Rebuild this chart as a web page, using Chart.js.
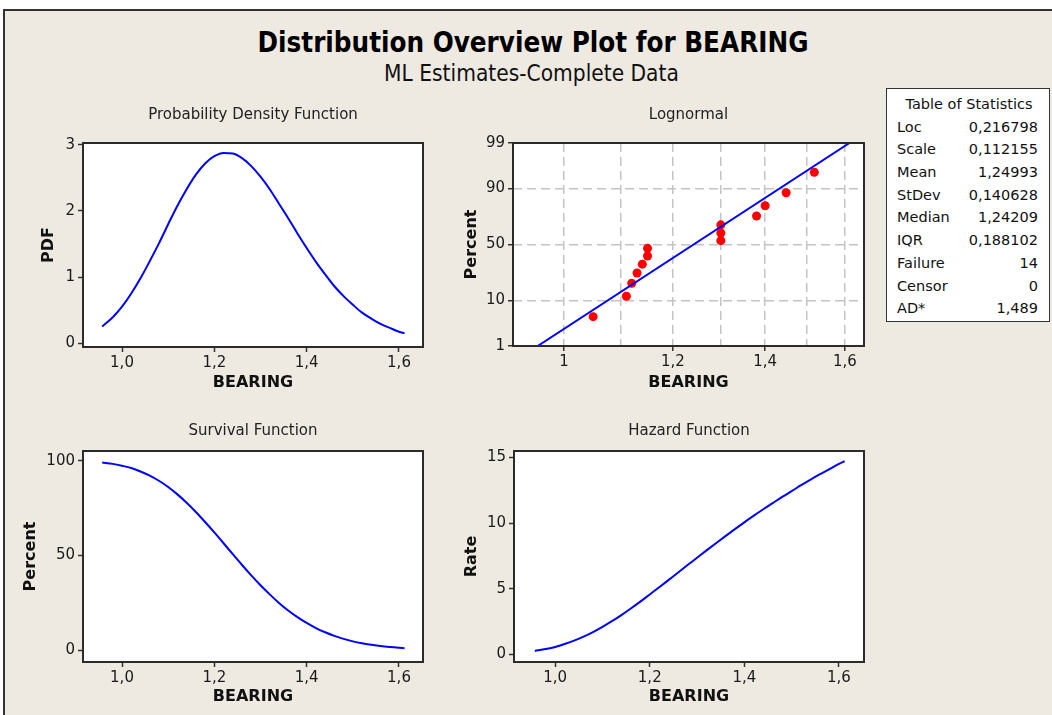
<!DOCTYPE html>
<html>
<head>
<meta charset="utf-8">
<title>Distribution Overview Plot for BEARING</title>
<script src="https://cdn.jsdelivr.net/npm/chart.js@4.4.1/dist/chart.umd.min.js"></script>
<style>
    html, body { margin: 0; padding: 0; background: #fff; }
    body { width: 1052px; height: 715px; position: relative; overflow: hidden;
           font-family: "DejaVu Sans", sans-serif; color: #111; }
    #frame { position: absolute; left: 3px; top: 9px; right: 0; bottom: 0; background: #eeeae1;
             border-top: 2px solid #333; border-left: 2px solid #333; }
    canvas { position: absolute; }
    #mainTitle { position: absolute; left: 0; width: 1066px; top: 26px; line-height: 32px;
                 text-align: center; font-size: 27.5px; font-weight: bold; color: #000;
                 font-family: "DejaVu Sans Condensed", "DejaVu Sans", sans-serif; }
    #subTitle { position: absolute; left: 0; width: 1063px; top: 60px; line-height: 26px;
                text-align: center; font-size: 22.5px; color: #111;
                font-family: "DejaVu Sans Condensed", "DejaVu Sans", sans-serif; }
    #stats { position: absolute; left: 886px; top: 88px; width: 164px; height: 234px; box-sizing: border-box;
             border: 1.5px solid #333; background: #fff; padding: 4px 11px 0 10px; font-size: 14.5px; color: #111; }
    #stats .row { display: flex; justify-content: space-between; line-height: 22.7px; height: 22.7px; }
    #stats .head { text-align: center; line-height: 22.7px; height: 22.7px; margin-right: -3px; white-space: nowrap; }
</style>
</head>
<body>
<div id="frame"></div>
<div id="mainTitle">Distribution Overview Plot for BEARING</div>
<div id="subTitle">ML Estimates-Complete Data</div>
<div id="stats"></div>

<canvas id="pdfChart" width="440" height="305" style="left:0;top:95px"></canvas>
<canvas id="lognormalChart" width="440" height="305" style="left:440px;top:95px"></canvas>
<canvas id="survivalChart" width="440" height="310" style="left:0;top:405px"></canvas>
<canvas id="hazardChart" width="440" height="310" style="left:440px;top:405px"></canvas>

<script>
// curves
const curveX = [0.957, 0.98, 1.00, 1.02, 1.04, 1.06, 1.08, 1.10, 1.12, 1.14, 1.16, 1.18, 1.20, 1.22, 1.24, 1.26, 1.28,
    1.30, 1.32, 1.34, 1.36, 1.38, 1.40, 1.42, 1.44, 1.46, 1.48, 1.50, 1.52, 1.54, 1.56, 1.58, 1.60, 1.612];
const pdfValues = [0.25, 0.39, 0.55, 0.75, 0.98, 1.24, 1.51, 1.80, 2.08, 2.33, 2.55, 2.72, 2.83, 2.88, 2.87, 2.80, 2.68,
    2.52, 2.33, 2.11, 1.89, 1.66, 1.44, 1.23, 1.04, 0.86, 0.71, 0.58, 0.46, 0.37, 0.29, 0.23, 0.17, 0.15];
const survivalValues = [99.0, 98.3, 97.3, 96.1, 94.3, 92.1, 89.4, 86.1, 82.2, 77.8, 72.9, 67.6, 62.1, 56.4, 50.6, 44.9, 39.4,
    34.2, 29.4, 24.9, 20.9, 17.4, 14.3, 11.6, 9.4, 7.5, 5.9, 4.6, 3.6, 2.8, 2.1, 1.6, 1.2, 1.0];
const hazardValues = [0.25, 0.40, 0.56, 0.78, 1.04, 1.34, 1.69, 2.09, 2.52, 2.99, 3.49, 4.01, 4.56, 5.11, 5.67, 6.23, 6.80,
    7.36, 7.92, 8.47, 9.01, 9.54, 10.06, 10.57, 11.06, 11.53, 12.00, 12.44, 12.89, 13.32, 13.73, 14.12, 14.52, 14.72];

// probability plot points and fitted line
const bearingTimes = [1.05, 1.11, 1.12, 1.13, 1.14, 1.15, 1.15, 1.30, 1.30, 1.30, 1.38, 1.40, 1.45, 1.52];
const plotPercents = [4.9, 11.8, 18.7, 25.7, 32.6, 39.6, 46.5, 53.5, 60.4, 67.4, 74.3, 81.3, 88.2, 95.1];
const fitLineX = [0.957, 1.612];
const fitLinePct = [1, 99];

// ticks
const curveTicks = [1.0, 1.2, 1.4, 1.6];
const logTicks = [1, 1.1, 1.2, 1.3, 1.4, 1.5, 1.6];
const logTickLabels = ['1', '', '1,2', '', '1,4', '', '1,6'];
const pctTicks = [1, 10, 50, 90, 99];
const pdfTicks = [0, 1, 2, 3];
const survivalTicks = [0, 50, 100];
const hazardTicks = [0, 5, 10, 15];

const statLabels = ['Loc', 'Scale', 'Mean', 'StDev', 'Median', 'IQR', 'Failure', 'Censor', 'AD*'];
const statValues = ['0,216798', '0,112155', '1,24993', '0,140628', '1,24209', '0,188102', '14', '0', '1,489'];

// stats table
const stats = document.getElementById('stats');
stats.innerHTML = '<div class="head">Table of Statistics</div>' +
    statLabels.map((l, i) => '<div class="row"><span>' + l + '</span><span>' + statValues[i] + '</span></div>').join('');

// normal quantile (Acklam) for the probability axis
function probit(p) {
    const a = [-39.69683028665376, 220.9460984245205, -275.9285104469687, 138.3577518672690, -30.66479806614716, 2.506628277459239];
    const b = [-54.47609879822406, 161.5858368580409, -155.6989798598866, 66.80131188771972, -13.28068155288572];
    const c = [-0.007784894002430293, -0.3223964580411365, -2.400758277161838, -2.549732539343734, 4.374664141464968, 2.938163982698783];
    const d = [0.007784695709041462, 0.3224671290700398, 2.445134137142996, 3.754408661907416];
    const pl = 0.02425;
    let q, r;
    if (p < pl) {
        q = Math.sqrt(-2 * Math.log(p));
        return (((((c[0]*q+c[1])*q+c[2])*q+c[3])*q+c[4])*q+c[5]) / ((((d[0]*q+d[1])*q+d[2])*q+d[3])*q+1);
    }
    if (p <= 1 - pl) {
        q = p - 0.5; r = q * q;
        return (((((a[0]*r+a[1])*r+a[2])*r+a[3])*r+a[4])*r+a[5])*q / (((((b[0]*r+b[1])*r+b[2])*r+b[3])*r+b[4])*r+1);
    }
    q = Math.sqrt(-2 * Math.log(1 - p));
    return -(((((c[0]*q+c[1])*q+c[2])*q+c[3])*q+c[4])*q+c[5]) / ((((d[0]*q+d[1])*q+d[2])*q+d[3])*q+1);
}
function normCdf(z) {
    const t = 1 / (1 + 0.2316419 * Math.abs(z));
    const y = 0.3989423 * Math.exp(-z * z / 2) * t * (0.3193815 + t * (-0.3565638 + t * (1.781478 + t * (-1.821256 + t * 1.330274))));
    return z > 0 ? 1 - y : y;
}

class ProbabilityScale extends Chart.Scale {
    static id = 'probability';
    static defaults = {};
    determineDataLimits() {
        this.min = this.options.min;
        this.max = this.options.max;
    }
    buildTicks() {
        return pctTicks.map(v => ({ value: v }));
    }
    configure() {
        super.configure();
        this._zMin = probit(this.min / 100);
        this._zMax = probit(this.max / 100);
    }
    getLabelForValue(v) { return String(v); }
    getPixelForValue(v) {
        return this.getPixelForDecimal((probit(v / 100) - this._zMin) / (this._zMax - this._zMin));
    }
    getValueForPixel(px) {
        const dec = this.getDecimalForPixel(px);
        return 100 * normCdf(this._zMin + dec * (this._zMax - this._zMin));
    }
}
Chart.register(ProbabilityScale);

Chart.defaults.font.family = '"DejaVu Sans", sans-serif';
Chart.defaults.color = '#1a1a1a';
Chart.defaults.animation = false;

// white plot area and closed box round it
const plotFrame = {
    id: 'plotFrame',
    beforeDraw(chart) {
        const { ctx, chartArea: a } = chart;
        ctx.save();
        ctx.fillStyle = '#fff';
        ctx.fillRect(a.left, a.top, a.right - a.left, a.bottom - a.top);
        ctx.restore();
    },
    afterDraw(chart) {
        const { ctx, chartArea: a } = chart;
        ctx.save();
        ctx.strokeStyle = '#2b2b2b';
        ctx.lineWidth = 2;
        ctx.strokeRect(a.left, a.top, a.right - a.left, a.bottom - a.top);
        ctx.restore();
    }
};

const setTicks = values => scale => { scale.ticks = values.map(v => ({ value: v })); };

const tickOnlyGrid = { display: true, drawOnChartArea: false, drawTicks: true, tickLength: 5, tickColor: '#333', tickWidth: 1.5 };
const tickFont = { size: 15 };
const axisTitleFont = { size: 16, weight: 'bold' };

function panelTitle(text, top) {
    return {
        display: true, text: text, fullSize: false, color: '#222',
        font: { size: 15, weight: 'normal' },
        padding: top ? { top: 11, bottom: 19 } : { top: 16.7, bottom: 11.3 }
    };
}

function bearingTitle(top) {
    return { display: true, text: 'BEARING', color: '#111', font: axisTitleFont,
             padding: { top: 0, bottom: top ? 7.7 : 8.4 } };
}

function curveChart(id, opts) {
    new Chart(document.getElementById(id), {
        type: 'scatter',
        data: {
            datasets: [{
                data: curveX.map((x, i) => ({ x: x, y: opts.values[i] })),
                showLine: true,
                borderColor: '#0000ff',
                borderWidth: 2,
                pointRadius: 0,
                cubicInterpolationMode: 'monotone'
            }]
        },
        options: {
            responsive: false,
            layout: { padding: { left: 0, right: opts.padRight, top: 0, bottom: 0 } },
            plugins: {
                legend: { display: false },
                tooltip: { enabled: false },
                title: panelTitle(opts.title, opts.top)
            },
            scales: {
                x: {
                    type: 'linear', min: opts.xMin, max: opts.xMax,
                    afterBuildTicks: setTicks(curveTicks),
                    afterFit: s => { s.height = opts.xHeight; },
                    grid: tickOnlyGrid,
                    border: { display: false },
                    ticks: { font: tickFont, padding: 2, maxRotation: 0, autoSkip: false,
                             callback: v => v.toFixed(1).replace('.', ',') },
                    title: bearingTitle(opts.top)
                },
                y: {
                    type: 'linear', min: opts.yMin, max: opts.yMax,
                    afterBuildTicks: setTicks(opts.yTicks),
                    afterFit: s => { s.width = opts.yWidth; },
                    grid: tickOnlyGrid,
                    border: { display: false },
                    ticks: { font: tickFont, padding: 3, autoSkip: false, callback: v => String(v) },
                    title: { display: true, text: opts.yTitle, color: '#111', font: axisTitleFont,
                             padding: { top: opts.yTitlePad, bottom: 0 } }
                }
            }
        },
        plugins: [plotFrame]
    });
}

curveChart('pdfChart', {
    title: 'Probability Density Function', top: true, values: pdfValues,
    xMin: 0.9155, xMax: 1.652, yMin: -0.06, yMax: 3.03, yTicks: pdfTicks,
    yTitle: 'PDF', yTitlePad: 39.4, yWidth: 83, xHeight: 53, padRight: 17
});

curveChart('survivalChart', {
    title: 'Survival Function', top: false, values: survivalValues,
    xMin: 0.9155, xMax: 1.652, yMin: -6.3, yMax: 105.1, yTicks: survivalTicks,
    yTitle: 'Percent', yTitlePad: 21.4, yWidth: 83, xHeight: 53, padRight: 17
});

curveChart('hazardChart', {
    title: 'Hazard Function', top: false, values: hazardValues,
    xMin: 0.913, xMax: 1.653, yMin: -0.59, yMax: 15.5, yTicks: hazardTicks,
    yTitle: 'Rate', yTitlePad: 22.4, yWidth: 74, xHeight: 53, padRight: 16
});

// lognormal probability plot
new Chart(document.getElementById('lognormalChart'), {
    type: 'scatter',
    data: {
        datasets: [
            {
                data: fitLineX.map((x, i) => ({ x: x, y: fitLinePct[i] })),
                showLine: true,
                borderColor: '#0000ff',
                borderWidth: 2,
                pointRadius: 0
            },
            {
                data: bearingTimes.map((x, i) => ({ x: x, y: plotPercents[i] })),
                pointRadius: 4.5,
                pointBackgroundColor: '#ff0000',
                pointBorderWidth: 0
            }
        ]
    },
    options: {
        responsive: false,
        layout: { padding: { left: 0, right: 16, top: 0, bottom: 0 } },
        plugins: {
            legend: { display: false },
            tooltip: { enabled: false },
            title: panelTitle('Lognormal', true)
        },
        scales: {
            x: {
                type: 'logarithmic', min: 0.9183, max: 1.6517,
                afterBuildTicks: setTicks(logTicks),
                afterFit: s => { s.height = 54; },
                grid: {
                    display: true, drawOnChartArea: true, drawTicks: true, tickLength: 5, tickWidth: 1.5,
                    color: '#c4c4c4', lineWidth: 1.5,
                    tickColor: ctx => (ctx.tick && ctx.tick.label) ? '#333' : 'rgba(0,0,0,0)'
                },
                border: { display: false, dash: [9, 5] },
                ticks: { font: tickFont, padding: 2, maxRotation: 0, autoSkip: false,
                         callback: (v, i) => logTickLabels[i] },
                title: bearingTitle(true)
            },
            y: {
                type: 'probability', min: 1, max: 99,
                afterFit: s => { s.width = 73; },
                grid: {
                    display: true, drawOnChartArea: true, drawTicks: true, tickLength: 5, tickWidth: 1.5,
                    color: '#c4c4c4', lineWidth: 1.5, tickColor: '#333'
                },
                border: { display: false, dash: [9, 5] },
                ticks: { font: tickFont, padding: 3, autoSkip: false, callback: v => String(v) },
                title: { display: true, text: 'Percent', color: '#111', font: axisTitleFont,
                         padding: { top: 22.4, bottom: 0 } }
            }
        }
    },
    plugins: [plotFrame]
});
</script>
</body>
</html>
